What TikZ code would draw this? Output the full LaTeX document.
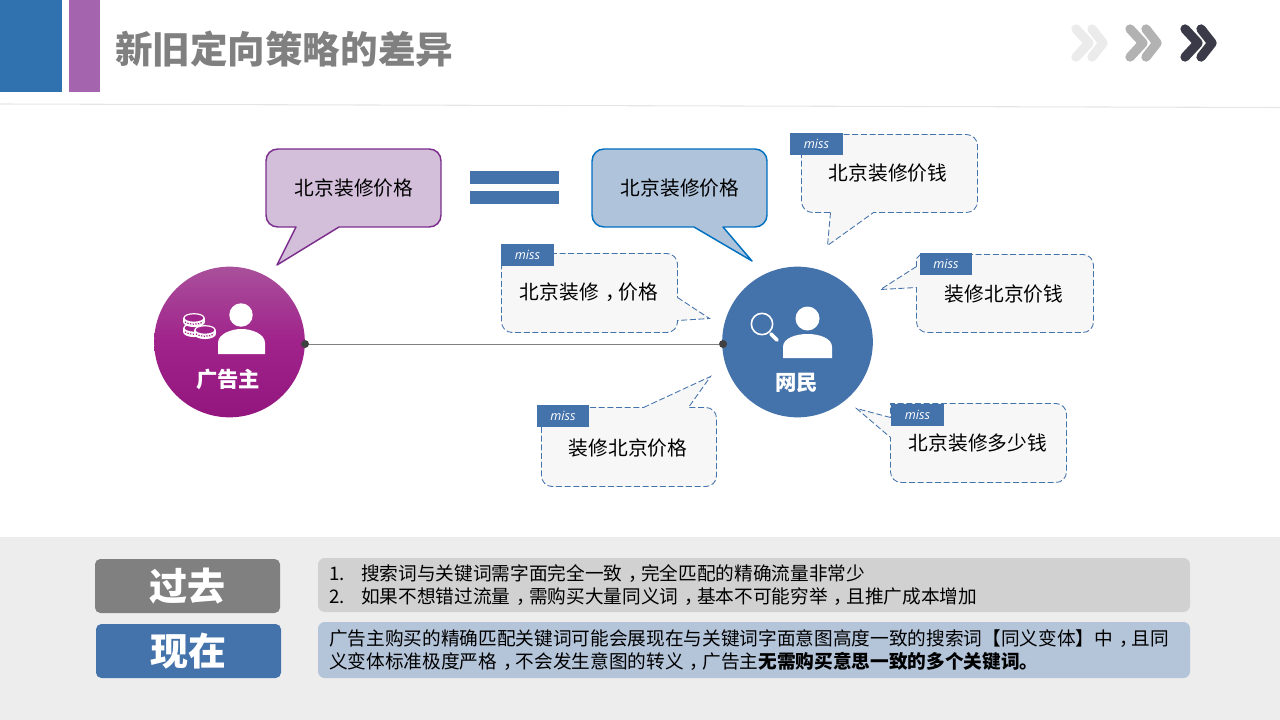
\documentclass[tikz,border=0pt]{standalone}
\usepackage{fontspec}
\setmainfont{Noto Sans CJK SC}
\newfontfamily\tagfont{Open Sans}
\definecolor{steel}{HTML}{4472AB}
\definecolor{headblue}{HTML}{3072B0}
\definecolor{headpurple}{HTML}{A565AE}
\definecolor{advmid}{HTML}{A0228B}
% comma set in the middle of its cell
\newcommand\cma{\kern.32em，\kern-.32em}
\tikzset{
  saybox/.style={line width=1.1pt,line join=round},
  missbox/.style={draw=steel,fill=black!3,dash pattern=on 4.5pt off 2pt,line width=.65pt,xshift=.375pt,yshift=-.375pt},
  misstag/.style={fill=steel,text=white,minimum width=39.5pt,minimum height=16.5pt,inner sep=0pt,font=\tagfont\itshape\fontsize{9.5}{10}\selectfont},
  saytext/.style={font=\fontsize{14.8}{18}\selectfont,inner sep=0pt},
  who/.style={circle,minimum size=113pt,inner sep=0pt},
  whotext/.style={text=white,font=\fontsize{16}{18}\bfseries\selectfont,inner sep=0pt},
  dot/.style={circle,fill=black!75,minimum size=6pt,inner sep=0pt},
  era/.style={rounded corners=4pt,minimum width=138.75pt,minimum height=40.5pt,inner sep=0pt,text=white,font=\fontsize{28.5}{30}\bfseries\selectfont},
  note/.style={rounded corners=5pt,minimum width=654pt,inner sep=0pt},
  notetext/.style={anchor=west,inner sep=0pt,align=left,font=\fontsize{14}{17.25}\selectfont},
}
\begin{document}
\begin{tikzpicture}[x=.75pt,y=-.75pt]
  \useasboundingbox (0,0) rectangle (1280,720);
  % header
  \fill[headblue] (0,0) rectangle (62,92);
  \fill[headpurple] (69,0) rectangle (100,92);
  \node[anchor=west,inner sep=0pt,text=black!50,font=\fontsize{28.15}{30}\bfseries\selectfont] (title) at (115,49) {新旧定向策略的差异};
  \draw[black!10,line width=.8pt] (0,104) -- (1280,107.5);
  \definecolor{chevdark}{HTML}{3B3A48}
  \foreach \dx/\col in {0/black!8,54/black!30,109/chevdark}{
    \draw[\col,line width=7pt,line cap=round,line join=round] (1076+\dx,29) -- (1089+\dx,43) -- (1076+\dx,57);
    \draw[\col,line width=7pt,line cap=round,line join=round] (1092+\dx,29) -- (1103+\dx,43) -- (1092+\dx,57);
  }
  % bottom band
  \fill[black!7] (0,537) rectangle (1280,720);
  % the two talking bubbles
  \draw[saybox,fill={rgb,255:red,212;green,191;blue,219},draw={rgb,255:red,123;green,46;blue,140}] (296,227) -- (277,265) -- (339,227) -- (429,227) .. controls (436,227) and (441,222) .. (441,215) -- (441,161) .. controls (441,154) and (436,149) .. (429,149) -- (278,149) .. controls (271,149) and (266,154) .. (266,161) -- (266,215) .. controls (266,222) and (271,227) .. (278,227) -- cycle;
  \node[saytext] (adsay) at (354,188.5) {北京装修价格};
  \fill[steel] (470,171) rectangle (559,184);
  \fill[steel] (470,191) rectangle (559,204);
  \draw[saybox,fill={rgb,255:red,175;green,195;blue,219},draw={rgb,255:red,0;green,112;blue,192}] (694,227) -- (752,261) -- (723,227) [rounded corners=9pt] -- (767,227) -- (767,149) -- (592,149) -- (592,227) -- (680,227) [sharp corners] -- cycle;
  \node[saytext] (netsay) at (680,188.5) {北京装修价格};
  % dashed bubbles
  \draw[missbox] (830,212) -- (827,245) -- (873,212) -- (966,212) .. controls (972,212) and (977,207) .. (977,201) -- (977,145) .. controls (977,139) and (972,134) .. (966,134) -- (812,134) .. controls (806,134) and (801,139) .. (801,145) -- (801,201) .. controls (801,207) and (806,212) .. (812,212) -- cycle;
  \node[saytext] (missa) at (888,173.5) {北京装修价钱};
  \node[misstag] (taga) at (816.5,144) {miss};
  \draw[missbox] (916,266) -- (880,289) -- (916,287) [rounded corners=8pt] -- (916,332) -- (1093,332) -- (1093,254) -- (940,254) [sharp corners] -- (920,254) -- (916,258) -- cycle;
  \node[saytext] (missb) at (1004,293.5) {装修北京价钱};
  \node[misstag] (tagb) at (946,264) {miss};
  \draw[missbox] (677,297) -- (709,318) -- (677,320) [rounded corners=8pt] -- (677,332) -- (501,332) -- (501,253) -- (677,253) -- (677,285) [sharp corners] -- cycle;
  \node[saytext] (missc) at (589,292.5) {北京装修\cma 价格};
  \node[misstag] (tagc) at (527.5,255) {miss};
  \draw[missbox] (643,407) -- (710,376) -- (688,407) [rounded corners=8pt] -- (716,407) -- (716,486) -- (541,486) -- (541,407) -- (630,407) [sharp corners] -- cycle;
  \node[saytext] (missd) at (628,447.5) {装修北京价格};
  \node[misstag] (tagd) at (563,416) {miss};
  \draw[missbox] (890,417) -- (856,408) -- (890,437) [rounded corners=8pt] -- (890,482) -- (1066,482) -- (1066,403) -- (920,403) [sharp corners] -- (890,403) -- cycle;
  \node[saytext] (misse) at (978,442.5) {北京装修多少钱};
  \node[misstag] (tage) at (917.5,415) {miss};
  % the two people
  \node[who,top color={rgb,255:red,169;green,80;blue,155},bottom color={rgb,255:red,147;green,22;blue,127},middle color=advmid] (adv) at (229.5,342) {};
  \node[who,fill=steel] (net) at (797.5,342) {};
  \node[whotext] (advname) at (228,379) {广告主};
  \node[whotext] (netname) at (796.5,383) {网民};
  \fill[white] (241,315) circle (8.8pt);
  \fill[white] (218,354) -- (218,343) .. controls (218,334) and (231,329) .. (241.5,329) .. controls (252,329) and (265,334) .. (265,343) -- (265,354) -- cycle;
  \fill[white] (807.5,318.5) circle (9pt);
  \fill[white] (783,358) -- (783,347) .. controls (783,338) and (796,334) .. (807.5,334) .. controls (819,334) and (832,338) .. (832,347) -- (832,358) -- cycle;
  \draw[white,line width=1.2pt] (762,324) circle (8pt);
  \draw[white,line width=2.8pt,line cap=round] (771,334) -- (777,340);
  \foreach \cx/\cy in {194/328,194/318,205/330}{
    \fill[white] (\cx,\cy+4) ellipse (8.2pt and 3.8pt);
    \fill[white] (\cx-11,\cy) rectangle (\cx+11,\cy+4);
    \draw[advmid,line width=.9pt,dash pattern=on 1pt off 1pt] (\cx-9,\cy+4) .. controls (\cx-5,\cy+7) and (\cx+5,\cy+7) .. (\cx+9,\cy+4);
    \draw[white,line width=.9pt,fill=advmid] (\cx,\cy) ellipse (7.6pt and 3.2pt);
  }
  \node[dot] (advdot) at (305,344) {};
  \node[dot] (netdot) at (723,344) {};
  \draw[black!50,line width=.6pt] (advdot) -- (netdot);
  % bottom rows
  \node[era,fill=black!50] (past) at (187.5,586) {过去};
  \node[era,fill=steel] (now) at (188.5,651) {现在};
  \node[note,fill=black!18,minimum height=40.5pt] (pastnote) at (754,585) {};
  \node[note,fill={rgb,255:red,180;green,196;blue,217},minimum height=42pt] (nownote) at (754,650) {};
  \node[notetext] (pasttext) at (329,585) {\makebox[24pt][l]{1.}搜索词与关键词需字面完全一致\cma 完全匹配的精确流量非常少\\\makebox[24pt][l]{2.}如果不想错过流量\cma 需购买大量同义词\cma 基本不可能穷举\cma 且推广成本增加};
  \node[notetext] (nowtext) at (329,650) {广告主购买的精确匹配关键词可能会展现在与关键词字面意图高度一致的搜索词【同义变体】中\cma 且同\\义变体标准极度严格\cma 不会发生意图的转义\cma 广告主\textbf{无需购买意思一致的多个关键词。}};
\end{tikzpicture}
\end{document}
